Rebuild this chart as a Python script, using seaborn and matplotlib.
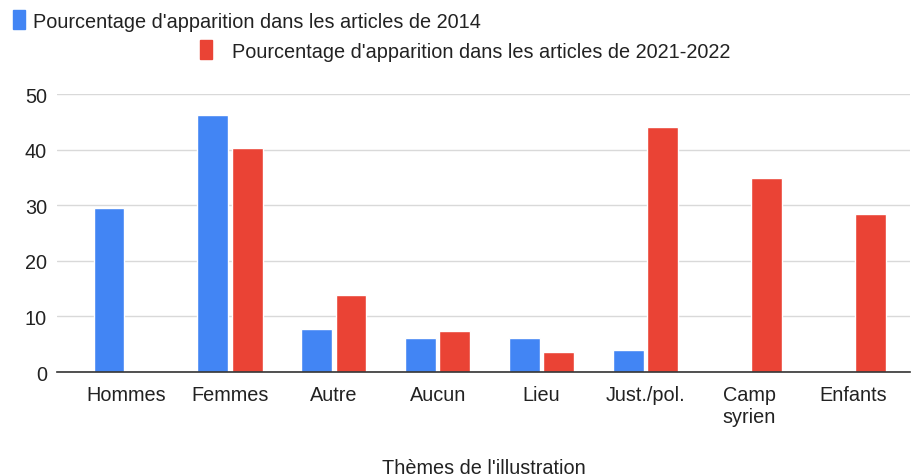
import numpy as np
import pandas as pd
import matplotlib.pyplot as plt
import seaborn as sns
from matplotlib.patches import Patch

## Data
themes = ['Hommes', 'Femmes', 'Autre', 'Aucun', 'Lieu', 'Just./pol.', 'Camp\nsyrien', 'Enfants']
pct_2014 = [29.5, 46.3, 7.7, 6.2, 6.2, 3.9, 0, 0]
pct_2021 = [0, 40.4, 13.9, 7.4, 3.6, 44.2, 34.9, 28.4]
series = ["Pourcentage d'apparition dans les articles de 2014",
          "Pourcentage d'apparition dans les articles de 2021-2022"]

df = pd.DataFrame({
    'theme': themes * 2,
    'pct': pct_2014 + pct_2021,
    'serie': [series[0]] * len(themes) + [series[1]] * len(themes),
})

colors = ['#4285F4', '#EA4335']
text_col = '#222222'
fs = 14.3

## Figure
sns.set_theme(style='white')
plt.rcParams['font.family'] = ['Liberation Sans', 'DejaVu Sans']

fig = plt.figure(figsize=(9.13, 4.77), dpi=100)
ax = fig.add_axes([0.062, 0.218, 0.935, 0.582])

sns.barplot(data=df, x='theme', y='pct', hue='serie', order=themes, hue_order=series,
            palette=colors, width=0.66, gap=0.1, saturation=1, legend=False, ax=ax)

ax.set_ylim(0, 50)
ax.set_xlim(-0.67, 7.55)
ax.set_yticks(range(0, 51, 10))
ax.grid(axis='y', color='#d9d9d9', linewidth=1)
ax.set_axisbelow(True)
for s in ['left', 'right', 'top']:
    ax.spines[s].set_visible(False)
ax.spines['bottom'].set_color('#333333')
ax.spines['bottom'].set_linewidth(1.2)
ax.tick_params(axis='both', length=0, labelsize=fs, colors=text_col)
ax.tick_params(axis='x', pad=9)
ax.tick_params(axis='y', pad=7)
ax.set_ylabel('')
ax.set_xlabel("Th\u00e8mes de l'illustration", fontsize=fs, color=text_col, va='center')
ax.xaxis.set_label_coords(0.5, -0.345)

## Legend split in two rows like the reference
fig.legend(handles=[Patch(color=colors[0], label=series[0])], loc='center left',
           bbox_to_anchor=(-0.005, 0.955), frameon=False, fontsize=fs, labelcolor=text_col,
           handlelength=0.6, handleheight=1.1, handletextpad=0.4)
fig.legend(handles=[Patch(color=colors[1], label=series[1])], loc='center left',
           bbox_to_anchor=(0.2, 0.892), frameon=False, fontsize=fs, labelcolor=text_col,
           handlelength=0.6, handleheight=1.1, handletextpad=1.0)

fig.savefig('out.png', dpi=100)
